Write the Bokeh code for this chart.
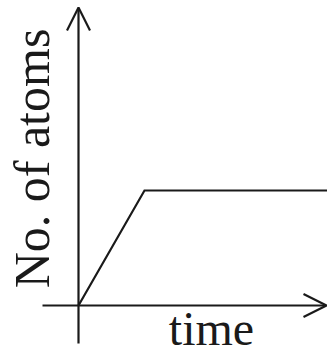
from math import pi
from bokeh.plotting import figure
from bokeh.models import Range1d, Arrow, OpenHead, Label
from bokeh.embed import file_html
from bokeh.resources import INLINE

# data
time = [0, 1, 4]
atoms = [0, 1, 1]
x_label = "time"
y_label = "No. of atoms"

INK = "#1a1a1a"
XS = 66.0   # px per time unit
YS = 115.0  # px per atoms unit

p = figure(width=327, height=354, output_backend="svg", toolbar_location=None,
           x_range=Range1d(-78 / XS, 249 / XS), y_range=Range1d(-49 / YS, 305 / YS),
           min_border=0, outline_line_color=None)
p.axis.visible = False
p.grid.visible = False
p.background_fill_color = "white"
p.border_fill_color = "white"

p.line(time, atoms, line_color=INK, line_width=2.2, line_join="miter")

# axes with open arrow heads
p.add_layout(Arrow(x_start=0, y_start=-38 / YS, x_end=0, y_end=298 / YS,
                   line_color=INK, line_width=2.2,
                   end=OpenHead(size=23, line_color=INK, line_width=2.2)))
p.add_layout(Arrow(x_start=-36 / XS, y_start=0, x_end=248 / XS, y_end=0,
                   line_color=INK, line_width=2.2,
                   end=OpenHead(size=23, line_color=INK, line_width=2.2)))

p.add_layout(Label(x=-47 / XS, y=147 / YS, text=y_label, angle=pi / 2,
                   text_align="center", text_baseline="alphabetic",
                   text_font="Liberation Serif", text_font_size="50px", text_color=INK))
p.add_layout(Label(x=133 / XS, y=-23 / YS, text=x_label,
                   text_align="center", text_baseline="alphabetic",
                   text_font="Liberation Serif", text_font_size="48px", text_color=INK))

open("out.html", "w").write(file_html(p, INLINE))
